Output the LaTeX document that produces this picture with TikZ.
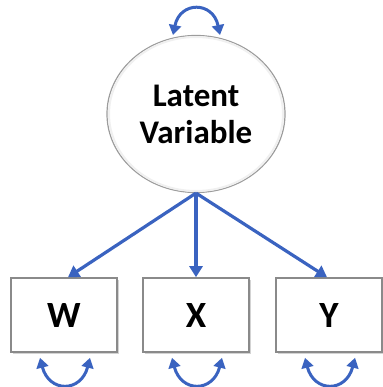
\documentclass[tikz,border=0pt]{standalone}
\usepackage{fontspec}
\setmainfont{Carlito}
\usetikzlibrary{arrows.meta,shadows,calc,shapes.geometric}
\definecolor{pathblue}{HTML}{3A63C0}
\definecolor{edgegray}{HTML}{8A8A8A}
\begin{document}
\begin{tikzpicture}[x=1pt,y=-1pt,
  every node/.style={font=\bfseries},
  latent/.style={ellipse,draw=edgegray!85,line width=1.2pt,fill=white,
    minimum width=178pt,minimum height=157pt,inner sep=0pt,
    align=center,font=\fontsize{33}{37}\bfseries\selectfont},
  rim/.style={draw=gray!12,line width=2pt},
  observed/.style={rectangle,draw=edgegray,line width=1.6pt,fill=white,
    minimum width=106pt,minimum height=74pt,inner sep=0pt,
    font=\fontsize{37}{42}\bfseries\selectfont,
    drop shadow={shadow xshift=1.5pt,shadow yshift=-1.5pt,opacity=0.35}},
  loading/.style={draw=pathblue,line width=3.2pt,
    -{Triangle[length=11pt,width=13pt]}},
  variance/.style={draw=pathblue,line width=3pt,
    {Triangle[length=10pt,width=12pt]}-{Triangle[length=10pt,width=12pt]}}
]
\useasboundingbox (0,0) rectangle (382,387);

% latent factor with a faint inner rim
\node[latent] (L) at (196,114) {Latent\\Variable};
\draw[rim] (L.center) ellipse [x radius=87pt, y radius=77pt];

% indicators
\node[observed] (W) at (64,315) {W};
\node[observed] (X) at (196,315) {X};
\node[observed] (Y) at (329,315) {Y};

% factor loadings
\draw[loading] (L.south) -- ($(W.north)+(4,0)$);
\draw[loading] (L.south) -- (X.north);
\draw[loading] (L.south) -- ($(Y.north)+(-2,0)$);

% variance of the latent variable
\coordinate (lv1) at (173,35);
\coordinate (lv2) at (220,35);
\draw[variance] (lv1) .. controls (180,1) and (213,1) .. (lv2);

% residual variances
\foreach \n in {W,X,Y}{
  \coordinate (\n a) at ($(\n.south)+(-24,5)$);
  \coordinate (\n b) at ($(\n.south)+(26,5)$);
  \draw[variance] (\n a) .. controls ($(\n a)+(9,35)$) and ($(\n b)+(-9,35)$) .. (\n b);
}
\end{tikzpicture}
\end{document}
